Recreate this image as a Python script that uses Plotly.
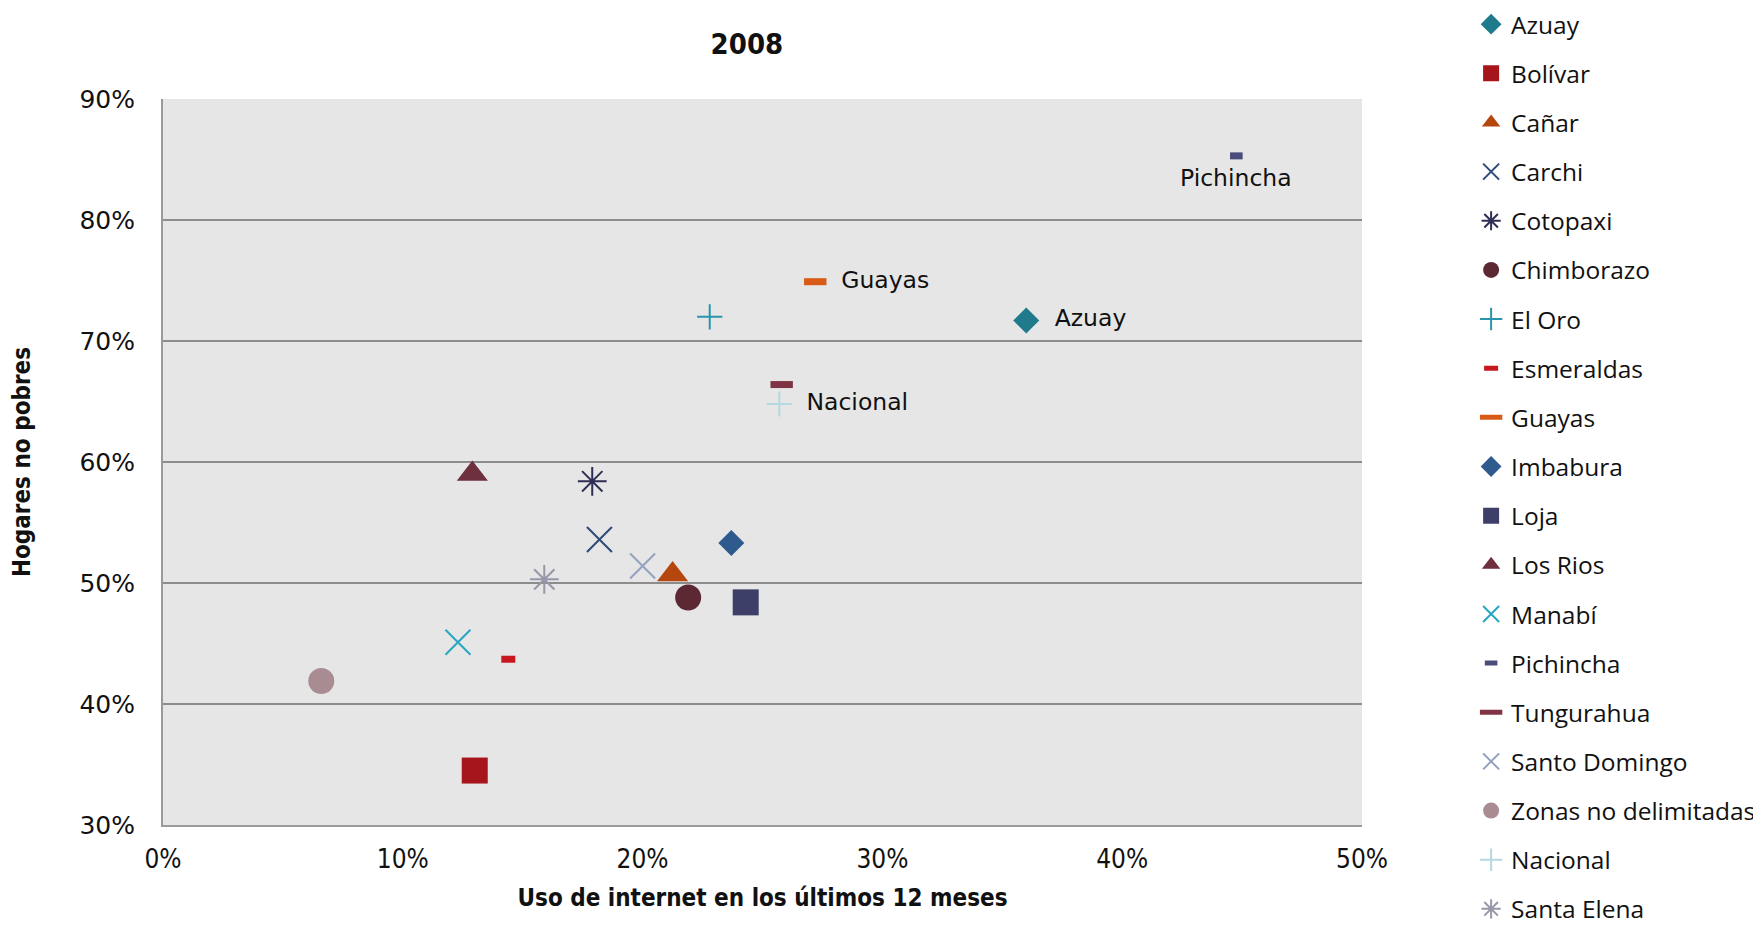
import plotly.graph_objects as go

# Datos 2008
provincias = [
    "Azuay", "Bolívar", "Cañar", "Carchi", "Cotopaxi", "Chimborazo", "El Oro",
    "Esmeraldas", "Guayas", "Imbabura", "Loja", "Los Rios", "Manabí", "Pichincha",
    "Tungurahua", "Santo Domingo", "Zonas no delimitadas", "Nacional", "Santa Elena",
]
uso_internet = [
    0.360, 0.130, 0.2125, 0.182, 0.179, 0.219, 0.228,
    0.144, 0.272, 0.237, 0.243, 0.129, 0.123, 0.4476,
    0.258, 0.200, 0.066, 0.257, 0.159,
]
hogares_no_pobres = [
    0.717, 0.345, 0.507, 0.536, 0.584, 0.488, 0.720,
    0.437, 0.749, 0.533, 0.484, 0.590, 0.451, 0.853,
    0.664, 0.514, 0.419, 0.648, 0.503,
]
etiquetados = ["Azuay", "Guayas", "Nacional"]
etiqueta_abajo = "Pichincha"

# estilo de cada serie: simbolo, color, tamaño, grosor de línea
estilos = {
    "Azuay": ("diamond", "#1F7A8C", 20, 0),
    "Bolívar": ("square", "#A6141C", 26, 0),
    "Cañar": ("triangle-up", "#B5470E", 27, 0),
    "Carchi": ("x-thin-open", "#2E4A76", 25, 2),
    "Cotopaxi": ("asterisk-open", "#2F2F55", 24, 2),
    "Chimborazo": ("circle", "#5C2834", 26, 0),
    "El Oro": ("cross-thin-open", "#2A93AD", 18, 2),
    "Esmeraldas": ("line-ew-open", "#C8171F", 10, 7),
    "Guayas": ("line-ew-open", "#D85A16", 16, 7),
    "Imbabura": ("diamond", "#2F5A8E", 20, 0),
    "Loja": ("square", "#3D3F68", 26, 0),
    "Los Rios": ("triangle-up", "#6E2F3F", 27, 0),
    "Manabí": ("x-thin-open", "#27A6C0", 25, 2),
    "Pichincha": ("line-ew-open", "#4A4C7A", 9, 7),
    "Tungurahua": ("line-ew-open", "#803344", 16, 7),
    "Santo Domingo": ("x-thin-open", "#94A0BF", 25, 2),
    "Zonas no delimitadas": ("circle", "#A98C92", 26, 0),
    "Nacional": ("cross-thin-open", "#B5D8E2", 18, 2),
    "Santa Elena": ("asterisk-open", "#9797AA", 24, 2),
}
fuente_etiqueta = dict(size=23.5, color="#111111", family="DejaVu Sans, sans-serif")

fig = go.Figure()

for i, prov in enumerate(provincias):
    simbolo, color, tam, grosor = estilos[prov]
    etiqueta = prov in etiquetados
    fig.add_trace(
        go.Scatter(
            x=[uso_internet[i]],
            y=[hogares_no_pobres[i]],
            name=prov,
            legendgroup=prov,
            mode="markers+text" if etiqueta else "markers",
            text=["  " + prov] if etiqueta else None,
            textposition="middle right",
            textfont=fuente_etiqueta,
            marker=dict(
                symbol=simbolo,
                size=tam,
                color=color,
                line=dict(color=color, width=grosor),
            ),
        )
    )
    if prov == etiqueta_abajo:
        fig.add_annotation(
            x=uso_internet[i],
            y=hogares_no_pobres[i],
            text=prov,
            showarrow=False,
            yanchor="top",
            yshift=-6,
            font=fuente_etiqueta,
        )

fig.update_layout(
    width=1761,
    height=932,
    plot_bgcolor="#E6E6E6",
    paper_bgcolor="white",
    margin=dict(l=155, r=407, t=91, b=115, autoexpand=False),
    font=dict(family="DejaVu Sans, sans-serif", color="#111111", size=22),
    title=dict(
        text="<b>2008</b>",
        x=0.487,
        xref="paper",
        xanchor="center",
        y=0.9727,
        yref="container",
        font=dict(size=29, family="DejaVu Sans Condensed, sans-serif"),
    ),
    legend=dict(
        x=1.091,
        xanchor="left",
        y=1.134,
        yanchor="top",
        maxheight=1000,
        font=dict(size=24.5, family="Open Sans, sans-serif"),
        tracegroupgap=14.3,
        bgcolor="rgba(0,0,0,0)",
    ),
    showlegend=True,
)

fig.update_xaxes(
    range=[0, 0.5],
    dtick=0.1,
    tickformat=".0%",
    showgrid=False,
    zeroline=False,
    showline=True,
    linecolor="#9a9a9a",
    linewidth=2,
    ticks="",
    ticklabelstandoff=10,
    tickfont=dict(size=26, family="DejaVu Sans Condensed, sans-serif"),
    title=dict(
        text="<b>Uso de internet en los últimos 12 meses</b>",
        font=dict(size=24, family="DejaVu Sans Condensed, sans-serif"),
        standoff=16,
    ),
)

fig.update_yaxes(
    range=[0.3, 0.9],
    dtick=0.1,
    tickformat=".0%",
    showgrid=True,
    gridcolor="#8C8C8C",
    gridwidth=1.5,
    zeroline=False,
    showline=True,
    linecolor="#9a9a9a",
    linewidth=2,
    ticks="",
    ticklabelstandoff=21,
    tickfont=dict(size=25),
    title=dict(
        text="<b>Hogares no pobres</b>",
        font=dict(size=24, family="DejaVu Sans Condensed, sans-serif"),
        standoff=43,
    ),
)

fig.write_html("out.html")
